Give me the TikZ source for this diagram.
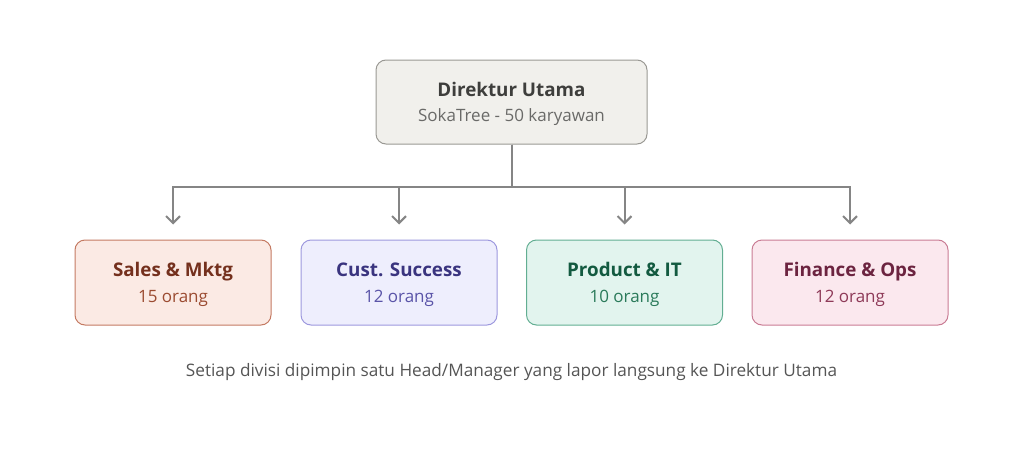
\documentclass[tikz,border=0pt]{standalone}
\usepackage{fontspec}
\setmainfont{Open Sans}
\usetikzlibrary{arrows.meta}
\definecolor{topfill}{HTML}{F1F0EC}\definecolor{topdraw}{HTML}{9A9994}
\definecolor{toptitle}{HTML}{3E3E3C}\definecolor{topsub}{HTML}{6A6A68}
\definecolor{sfill}{HTML}{FBEAE4}\definecolor{sdraw}{HTML}{C47A62}
\definecolor{stitle}{HTML}{74301D}\definecolor{ssub}{HTML}{9B4B31}
\definecolor{cfill}{HTML}{EEEEFD}\definecolor{cdraw}{HTML}{9D98DE}
\definecolor{ctitle}{HTML}{3A347F}\definecolor{csub}{HTML}{5A54A8}
\definecolor{pfill}{HTML}{E2F4EE}\definecolor{pdraw}{HTML}{62AE92}
\definecolor{ptitle}{HTML}{135A40}\definecolor{psub}{HTML}{2A7A5A}
\definecolor{ffill}{HTML}{FBE8EE}\definecolor{fdraw}{HTML}{C97C94}
\definecolor{ftitle}{HTML}{6C2440}\definecolor{fsub}{HTML}{8E3A58}
\definecolor{linec}{HTML}{858585}\definecolor{capc}{HTML}{555555}
\begin{document}
\begin{tikzpicture}[x=1pt,y=1pt,
  box/.style={draw, line width=1pt, rounded corners=10pt, minimum width=#1, minimum height=85pt, inner sep=0pt},
  box/.default=196pt,
  conn/.style={draw=linec, line width=2pt, -{Straight Barb[length=7pt,width=14pt,line width=2pt]}, shorten >=15pt},
  ttl/.style={font=\fontsize{18.8}{22}\selectfont\bfseries},
  sub/.style={font=\fontsize{17}{20}\selectfont},
  capstyle/.style={font=\fontsize{17.2}{20}\selectfont}]
\useasboundingbox (0,0) rectangle (1024,-452);
\node[box=271pt, minimum height=84pt, fill=topfill, draw=topdraw] (top) at (511.5,-102) {};
\node[ttl, text=toptitle, anchor=base] (topt) at (511.5,-96) {Direktur Utama};
\node[sub, text=topsub, anchor=base] (tops) at (511.5,-121) {SokaTree - 50 karyawan};
\node[box, fill=sfill, draw=sdraw] (c1) at (173,-282.5) {};
\node[box, fill=cfill, draw=cdraw] (c2) at (399,-282.5) {};
\node[box, fill=pfill, draw=pdraw] (c3) at (624.5,-282.5) {};
\node[box, fill=ffill, draw=fdraw] (c4) at (850,-282.5) {};
\node[ttl, text=stitle, anchor=base] (c1t) at (173,-276) {Sales \& Mktg};
\node[sub, text=ssub, anchor=base] (c1s) at (173,-302) {15 orang};
\node[ttl, text=ctitle, anchor=base] (c2t) at (399,-276) {Cust. Success};
\node[sub, text=csub, anchor=base] (c2s) at (399,-302) {12 orang};
\node[ttl, text=ptitle, anchor=base] (c3t) at (624.5,-276) {Product \& IT};
\node[sub, text=psub, anchor=base] (c3s) at (624.5,-302) {10 orang};
\node[ttl, text=ftitle, anchor=base] (c4t) at (850,-276) {Finance \& Ops};
\node[sub, text=fsub, anchor=base] (c4s) at (850,-302) {12 orang};
\coordinate (bus) at (511.5,-187);
\foreach \c in {c1,c2,c3,c4}{
  \draw[conn] (top.south) -- (bus) -| (\c.north);
}
\node[capstyle, text=capc, anchor=base] (cap) at (511.5,-376) {Setiap divisi dipimpin satu Head/Manager yang lapor langsung ke Direktur Utama};
\end{tikzpicture}
\end{document}
